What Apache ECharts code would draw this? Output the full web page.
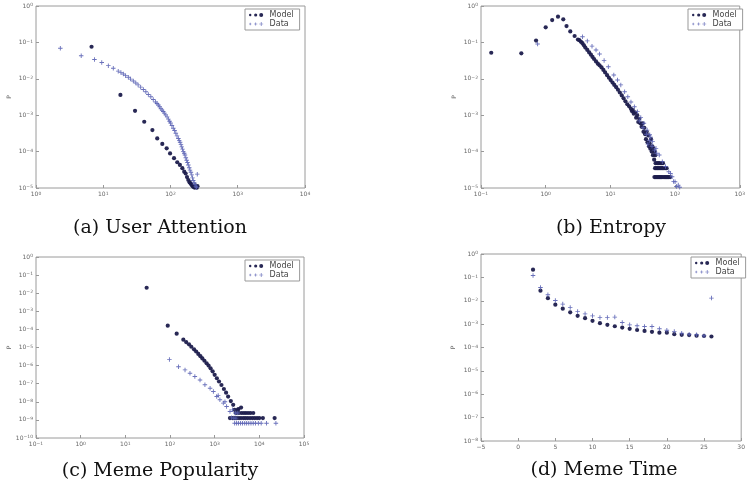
<!DOCTYPE html>
<html><head><meta charset="utf-8">
<script src="https://cdn.jsdelivr.net/npm/echarts@6/dist/echarts.min.js"></script>
<style>html,body{margin:0;padding:0;background:#fff}#c{width:748px;height:490px}</style>
</head><body><div id="c"></div>
<script>
// ---------- DATA ----------
const captions = ['(a) User Attention', '(b) Entropy', '(c) Meme Popularity', '(d) Meme Time'];
const seriesNames = ['Model', 'Data'];

// (a) User Attention  [x, P]
const aModel = [[6.7,0.076],[18,0.0036],[29.7,0.00132],[40.7,0.00066],[53.8,0.00039],[63.5,0.00023],[75.5,0.000162],[87.7,0.000123],[98.5,0.000089],[112.8,0.000066],[126,0.000051],[138,0.000043],[150,0.000035],[160,0.000028],[168,0.000025],[176,0.00002],[184,0.0000166],[192,0.0000145],[198,0.0000135],[204,0.0000125],[210,0.0000118],[216,0.000011],[222,0.0000106],[228,0.0000103],[234,0.0000118],[240,0.0000108],[246,0.0000102],[252,0.0000112]];
const aData = [[2.3,0.069],[4.7,0.043],[7.4,0.034],[9.5,0.028],[11.9,0.023],[14.1,0.0195],[16.7,0.0162],[18.3,0.0148],[19.9,0.0135],[21.5,0.0122],[23.6,0.011],[25.5,0.0098],[28,0.0087],[30.5,0.0077],[33,0.0068],[36,0.0059],[39.5,0.0051],[43,0.0044],[46.8,0.0037],[51,0.0032],[55.4,0.0027],[60,0.0023],[63,0.0021],[66,0.0019],[69,0.0017],[72,0.0015],[75,0.00138],[78,0.00126],[81,0.00114],[85,0.00102],[89,0.0009],[93,0.00078],[97,0.00068],[100,0.00061],[105,0.00052],[110,0.00044],[115,0.00038],[120,0.00032],[125,0.00027],[131,0.00023],[135,0.0002],[139,0.00018],[143,0.000155],[147,0.000135],[151,0.000117],[155,0.0001],[160,0.00009],[164,0.000081],[169,0.000068],[174,0.000058],[179,0.00005],[184,0.000043],[190,0.000036],[195,0.000031],[201,0.000027],[207,0.000023],[212,0.000019],[218,0.000016],[225,0.000014],[231,0.0000126],[238,0.0000112],[244,0.0000104],[250,0.000024]];

// (b) Entropy
const bModel = [[0.144,0.052],[0.42,0.05],[0.71,0.112],[1.0,0.26],[1.26,0.41],[1.55,0.51],[1.87,0.43],[2.1,0.28],[2.4,0.2],[2.8,0.15],[3.15,0.12],
 [3.3,0.115],[3.5,0.105],[3.7,0.095],[3.9,0.083],[4.1,0.072],[4.4,0.062],[4.7,0.053],[5.0,0.046],[5.3,0.04],[5.6,0.035],[6.0,0.03],[6.4,0.026],[6.8,0.0235],[7.3,0.0205],[7.8,0.0175],[8.3,0.015],[8.9,0.0126],[9.5,0.0107],[10.1,0.0092],[10.8,0.0079],[11.5,0.0068],[12.3,0.0059],[13.1,0.005],[14.0,0.0042],[15.0,0.0035],[16.0,0.0029],[17.1,0.0024],[18.3,0.002],[19.5,0.00175],[20.8,0.0015],[21.5,0.0013],[22.2,0.00138],[23.0,0.0011],[24.0,0.0012],[25.0,0.00085],[26.0,0.001],[27.0,0.00065],[28.0,0.0008],[29.0,0.0006],[30.4,0.00048],[31.5,0.0006],[32.5,0.00035],[33.5,0.00045],[34.5,0.0003],[35.5,0.00022],[36.5,0.00035],[37.5,0.00018],[38.5,0.00028],[39.5,0.00014],[40.4,0.00017],[41.5,0.00012],[42.5,0.00022],[43.5,0.0001],[44.5,0.00014],[45.5,0.00008],[46.5,0.00012],[47.5,0.00006],[48.5,0.0001],[49.5,0.00008],
 [50,0.000048],[53,0.000048],[56,0.000048],[59,0.000048],[62,0.000048],[65,0.000048],
 [49,0.000035],[51,0.000035],[53.5,0.000035],[56,0.000035],[58.5,0.000035],[61,0.000035],[64,0.000035],[67,0.000035],[70.5,0.000035],[74,0.000035],
 [48,0.00002],[50,0.00002],[52,0.00002],[54,0.00002],[56,0.00002],[58,0.00002],[60,0.00002],[62,0.00002],[65,0.00002],[68,0.00002],[71,0.00002],[74,0.00002],[77,0.00002],[80,0.00002],[84,0.00002]];
const bData = [[0.75,0.09],[3.7,0.143],[4.4,0.11],[5.2,0.079],[6.0,0.062],[6.8,0.048],[8.0,0.032],[9.3,0.0214],[11.3,0.0127],[12.9,0.0093],[14.5,0.0068],[16.6,0.0044],[18.6,0.0032],[20.8,0.0023],[23.5,0.0017],[26.2,0.00125],[29.5,0.00087],[33,0.0006],[37,0.00039],[40.6,0.00029],[45,0.000188],[50.7,0.000123],[57,0.000081],[63.5,0.000053],[71,0.000039],[80,0.000028],[85,0.000025],[90,0.0000204],[95,0.000015],[100,0.0000149],[105,0.000011],[112,0.000012],[118,0.0000105],
 [28,0.0007],[32,0.00045],[36,0.0003],[40,0.0002],[44,0.00014],[48,0.00011],[52,0.00009],[42,0.00025],[38,0.00016]];

// (c) Meme Popularity
const cModel = [[30,0.02],[89,0.00016],[141,0.000058],[199,0.000027],[230,0.00002],[266,0.000015],[300,0.000011],[345,0.0000079],[385,0.000006],[430,0.0000044],[480,0.0000033],[530,0.0000025],[590,0.00000185],[660,0.00000135],[730,0.000001],[810,7.1e-7],[900,4.8e-7],[1000,3.1e-7],[1120,2.0e-7],[1250,1.32e-7],[1420,8.5e-8],[1610,5.1e-8],[1800,3.2e-8],[2000,1.95e-8],[2300,1.1e-8],[2600,6.8e-9],[2800,3.6e-9],[3300,3.6e-9],[3400,4e-9],[3900,4.8e-9],
 [3000,2.4e-9],[3500,2.4e-9],[4000,2.4e-9],[4500,2.4e-9],[5000,2.4e-9],[5600,2.4e-9],[6300,2.4e-9],[7300,2.4e-9],
 [2200,1.26e-9],[2500,1.26e-9],[2800,1.26e-9],[3100,1.26e-9],[3500,1.26e-9],[3900,1.26e-9],[4400,1.26e-9],[4900,1.26e-9],[5500,1.26e-9],[6200,1.26e-9],[7000,1.26e-9],[7900,1.26e-9],[8900,1.26e-9],[10000,1.26e-9],[12000,1.26e-9],[22000,1.26e-9]];
const cData = [[97,0.0000022],[155,8.7e-7],[217,5.8e-7],[280,3.8e-7],[360,2.5e-7],[470,1.6e-7],[605,8.7e-8],[790,5.6e-8],[935,3.7e-8],[1110,1.95e-8],[1310,1.3e-8],[1560,8.5e-9],[1850,5.5e-9],[2200,2.9e-9],[1200,2.2e-8],[1700,1.0e-8],
 [2400,1.3e-9],[2700,1.26e-9],[3000,1.26e-9],[3300,2.4e-9],[2500,3.6e-9],[2900,2.4e-9],
 [2800,6.5e-10],[3100,6.5e-10],[3400,6.5e-10],[3800,6.5e-10],[4200,6.5e-10],[4700,6.5e-10],[5200,6.5e-10],[5800,6.5e-10],[6500,6.5e-10],[7300,6.5e-10],[8200,6.5e-10],[9500,6.5e-10],[11000,6.5e-10],[14500,6.5e-10],[23500,6.5e-10]];

// (d) Meme Time
const dX = [2,3,4,5,6,7,8,9,10,11,12,13,14,15,16,17,18,19,20,21,22,23,24,25,26];
const dModel = [0.214,0.0269,0.0129,0.0068,0.0046,0.0032,0.00226,0.0018,0.00138,0.0011,0.00093,0.00081,0.00071,0.00063,0.00056,0.00051,0.00047,0.00043,0.00043,0.00037,0.00035,0.00034,0.00032,0.00031,0.000295];
const dData = [0.12,0.037,0.018,0.0102,0.0072,0.0051,0.0035,0.00275,0.00226,0.0019,0.0019,0.002,0.00117,0.00093,0.00085,0.00079,0.00079,0.00063,0.00055,0.00048,0.00041,0.00037,0.00035,0.00032,0.013];

// ---------- STYLE ----------
const MODEL_COLOR = '#1c1c4c';
const DATA_COLOR = '#5a62b4';
const PLUS = 'path://M0,4h10v2h-10zM4,0h2v10h-2z';
function circ(cx, cy, r){ return 'M'+(cx-r)+','+cy+'a'+r+','+r+' 0 1,0 '+(2*r)+',0a'+r+','+r+' 0 1,0 '+(-2*r)+',0z'; }
const ICON_M = 'path://' + circ(4,4,2.4) + circ(15,4,3.2) + circ(26,4,4);
function plus(cx, a){ return 'M'+(cx-a)+','+(4-0.7)+'h'+(2*a)+'v1.4h'+(-2*a)+'zM'+(cx-0.7)+','+(4-a)+'h1.4v'+(2*a)+'h-1.4z'; }
const ICON_D = 'path://' + plus(4,2.4) + plus(15,3.2) + plus(26,4);

const sup = e => (e < 0 ? '\u2212' + (-e) : '' + e);
const logFmt = v => '10{s|' + sup(Math.round(Math.log10(v))) + '}';
const labelBase = { fontSize: 6, color: '#666', fontFamily: 'DejaVu Sans', margin: 3,
  rich: { s: { fontSize: 4.5, color: '#666', fontFamily: 'DejaVu Sans', verticalAlign: 'top', padding: [0,0,2,0] } } };

const grids = [
  { left: 36, top: 6, width: 269, height: 182 },
  { left: 481, top: 6, width: 270, height: 182 },
  { left: 36, top: 257, width: 268, height: 181 },
  { left: 481, top: 254, width: 271, height: 187 }
].map(g => Object.assign(g, { show: true, borderColor: '#9a9a9a', borderWidth: 1, backgroundColor: 'rgba(0,0,0,0)' }));

const tickStyle = { inside: true, length: 3, lineStyle: { color: '#999' } };
function logAxis(gi, min, max, extra) {
  return Object.assign({ type: 'log', logBase: 10, gridIndex: gi, min: min, max: max, interval: 1,
    axisLine: { show: false, onZero: false }, splitLine: { show: false },
    axisTick: tickStyle,
    axisLabel: Object.assign({ formatter: logFmt, showMinLabel: true, showMaxLabel: true, interval: 0 }, labelBase) }, extra || {});
}
const yName = { name: 'P', nameLocation: 'middle', nameGap: 24, nameTextStyle: { fontSize: 6, color: '#666', fontFamily: 'DejaVu Sans' } };

const xAxis = [
  logAxis(0, 1, 1e4),
  logAxis(1, 0.1, 1e3),
  logAxis(2, 0.1, 1e5),
  { type: 'value', gridIndex: 3, min: -5, max: 30, interval: 5, axisLine: { show: false, onZero: false }, splitLine: { show: false },
    axisTick: tickStyle,
    axisLabel: Object.assign({ formatter: v => (v < 0 ? '\u2212' + (-v) : '' + v), showMaxLabel: true }, labelBase) }
];
const yAxis = [
  logAxis(0, 1e-5, 1, yName),
  logAxis(1, 1e-5, 1, yName),
  logAxis(2, 1e-10, 1, Object.assign({}, yName, { nameGap: 23 })),
  logAxis(3, 1e-8, 1, Object.assign({}, yName, { nameGap: 25 }))
];

function sc(name, gi, data) {
  const m = name === 'Model';
  return { type: 'scatter', name: name, xAxisIndex: gi, yAxisIndex: gi, data: data,
    symbol: m ? 'circle' : PLUS, symbolSize: m ? 4.2 : 4.5,
    itemStyle: { color: m ? MODEL_COLOR : DATA_COLOR, opacity: m ? 0.95 : 0.9 },
    emphasis: { disabled: true }, silent: true, animation: false };
}
const series = [
  sc('Model', 0, aModel), sc('Data', 0, aData),
  sc('Model', 1, bModel), sc('Data', 1, bData),
  sc('Model', 2, cModel), sc('Data', 2, cData),
  sc('Model', 3, dX.map((x, i) => [x, dModel[i]])), sc('Data', 3, dX.map((x, i) => [x, dData[i]]))
];

const legendPos = [[245, 9], [688, 9], [245, 260], [691, 257]];
const legend = legendPos.map(p => ({
  left: p[0], top: p[1], orient: 'vertical', selectedMode: false,
  backgroundColor: '#fff', borderColor: '#999', borderWidth: 1, padding: [2, 6, 2, 4], itemGap: 1,
  itemWidth: 15, itemHeight: 4, itemStyle: { borderWidth: 0 },
  textStyle: { fontSize: 8, color: '#444', fontFamily: 'DejaVu Sans', padding: [0,0,0,1] },
  data: [{ name: 'Model', icon: ICON_M }, { name: 'Data', icon: ICON_D }]
}));

const capPos = [[160, 228], [611, 228], [160, 471], [604, 470]];
const graphic = captions.map((t, i) => ({
  type: 'text', x: capPos[i][0], y: capPos[i][1], silent: true,
  style: { text: t, font: '19px "DejaVu Serif"', fill: '#111', align: 'center', verticalAlign: 'middle', textAlign: 'center', textVerticalAlign: 'middle' }
}));

const chart = echarts.init(document.getElementById('c'), null, { renderer: 'canvas' });
chart.setOption({ animation: false, backgroundColor: '#fff', grid: grids, xAxis: xAxis, yAxis: yAxis, series: series, legend: legend, graphic: graphic });
</script></body></html>
